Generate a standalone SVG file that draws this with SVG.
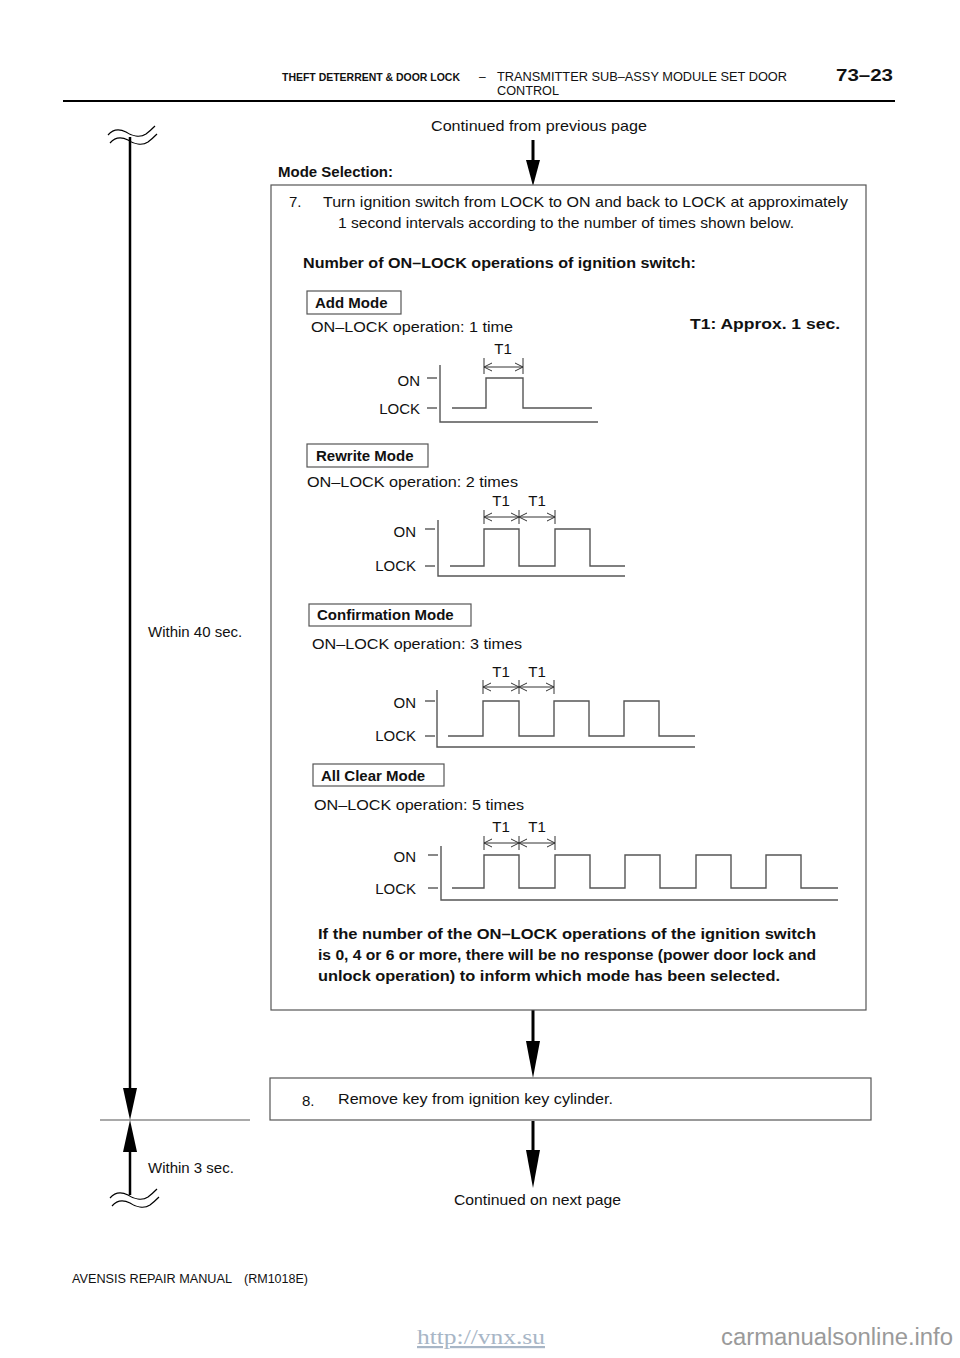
<svg xmlns="http://www.w3.org/2000/svg" width="960" height="1358" viewBox="0 0 960 1358">
<style>
text{font-family:"Liberation Sans",Arial,sans-serif;fill:#111}
.t{font-size:15px}
.b{font-size:15px;font-weight:bold}
.hd{font-size:12px}
.box{fill:#fff;stroke:#555;stroke-width:1.2}
.wave{fill:none;stroke:#555;stroke-width:1.4}
.dim{fill:none;stroke:#333;stroke-width:1}
.shaft{stroke:#000;stroke-width:3}
.vline{stroke:#000;stroke-width:2.5}
.sq{fill:none;stroke:#000;stroke-width:1.2}
</style>
<defs>
<marker id="open" markerWidth="10" markerHeight="10" refX="8" refY="5" orient="auto-start-reverse" markerUnits="userSpaceOnUse">
<path d="M0,1 L8,5 L0,9" fill="none" stroke="#333" stroke-width="1"/>
</marker>
</defs>

<g id="header">
<text x="282" y="81" font-size="11" font-weight="bold" textLength="178" lengthAdjust="spacingAndGlyphs">THEFT DETERRENT &amp; DOOR LOCK</text>
<text x="479" y="81" class="hd">–</text>
<text x="497" y="81" class="hd" textLength="290" lengthAdjust="spacingAndGlyphs">TRANSMITTER SUB–ASSY MODULE SET DOOR</text>
<text x="497" y="95" class="hd" textLength="62" lengthAdjust="spacingAndGlyphs">CONTROL</text>
<text x="836" y="81" font-size="16" font-weight="bold" textLength="57" lengthAdjust="spacingAndGlyphs">73–23</text>
<line x1="63" y1="101" x2="895" y2="101" stroke="#000" stroke-width="2"/>
</g>

<g id="connectors">
<line class="shaft" x1="533" y1="140" x2="533" y2="165"/>
<polygon points="526,160 540,160 533,186" fill="#000"/>
<line class="shaft" x1="533" y1="1010" x2="533" y2="1045"/>
<polygon points="526,1041 540,1041 533,1078" fill="#000"/>
<line class="shaft" x1="533" y1="1121" x2="533" y2="1155"/>
<polygon points="526,1150 540,1150 533,1188" fill="#000"/>
<line class="vline" x1="130" y1="137" x2="130" y2="1092"/>
<polygon points="123,1088 137,1088 130,1120" fill="#000"/>
<polygon points="123,1152 137,1152 130,1120" fill="#000"/>
<line class="vline" x1="130" y1="1148" x2="130" y2="1195"/>
<line x1="100" y1="1120" x2="250" y2="1120" stroke="#555" stroke-width="1.2"/>
<path class="sq" d="M108,135 C114,128 120,129 126,132 C132,136 140,138 146,134 C150,131 152,129 155,126"/>
<path class="sq" d="M110,143 C116,136 122,137 128,140 C134,144 142,146 148,142 C152,139 154,137 157,134"/>
<path class="sq" d="M110,1198 C116,1191 122,1192 128,1195 C134,1199 142,1201 148,1197 C152,1194 154,1192 157,1189"/>
<path class="sq" d="M112,1206 C118,1199 124,1200 130,1203 C136,1207 144,1209 150,1205 C154,1202 156,1200 159,1197"/>
</g>

<g id="labels">
<text x="431" y="131" class="t" textLength="216" lengthAdjust="spacingAndGlyphs">Continued from previous page</text>
<text x="278" y="177" class="b">Mode Selection:</text>
<text x="148" y="637" class="t">Within 40 sec.</text>
<text x="148" y="1173" class="t">Within 3 sec.</text>
<text x="454" y="1205" class="t" textLength="167" lengthAdjust="spacingAndGlyphs">Continued on next page</text>
</g>

<g id="step7">
<rect class="box" x="271" y="185" width="595" height="825"/>
<text x="289" y="207" class="t">7.</text>
<text x="323" y="207" class="t" textLength="525" lengthAdjust="spacingAndGlyphs">Turn ignition switch from LOCK to ON and back to LOCK at approximately</text>
<text x="338" y="228" class="t" textLength="456" lengthAdjust="spacingAndGlyphs">1 second intervals according to the number of times shown below.</text>
<text x="303" y="268" class="b" textLength="393" lengthAdjust="spacingAndGlyphs">Number of ON–LOCK operations of ignition switch:</text>
<text x="690" y="329" class="b" textLength="150" lengthAdjust="spacingAndGlyphs">T1: Approx. 1 sec.</text>
<text x="318" y="939" class="b" textLength="498" lengthAdjust="spacingAndGlyphs">If the number of the ON–LOCK operations of the ignition switch</text>
<text x="318" y="960" class="b" textLength="498" lengthAdjust="spacingAndGlyphs">is 0, 4 or 6 or more, there will be no response (power door lock and</text>
<text x="318" y="981" class="b" textLength="462" lengthAdjust="spacingAndGlyphs">unlock operation) to inform which mode has been selected.</text>
</g>

<g id="add-mode">
<rect class="box" x="307" y="291" width="94" height="23"/>
<text x="315" y="308" class="b">Add Mode</text>
<text x="311" y="332" class="t" textLength="202" lengthAdjust="spacingAndGlyphs">ON–LOCK operation: 1 time</text>
<text x="503" y="354" class="t" text-anchor="middle">T1</text>
<line class="dim" x1="484" y1="358" x2="484" y2="374"/>
<line class="dim" x1="523" y1="358" x2="523" y2="374"/>
<line class="dim" x1="484" y1="367" x2="523" y2="367" marker-start="url(#open)" marker-end="url(#open)"/>
<text x="420" y="386" class="t" text-anchor="end">ON</text>
<text x="420" y="414" class="t" text-anchor="end">LOCK</text>
<line class="wave" x1="427" y1="378" x2="437" y2="378"/>
<line class="wave" x1="427" y1="408" x2="437" y2="408"/>
<polyline class="wave" points="440,365 440,422 598,422"/>
<path class="wave" d="M452,408 H486 V378 H523 V408 H592"/>
</g>

<g id="rewrite-mode">
<rect class="box" x="307" y="444" width="121" height="23"/>
<text x="316" y="461" class="b">Rewrite Mode</text>
<text x="307" y="487" class="t" textLength="211" lengthAdjust="spacingAndGlyphs">ON–LOCK operation: 2 times</text>
<text x="501" y="506" class="t" text-anchor="middle">T1</text>
<text x="537" y="506" class="t" text-anchor="middle">T1</text>
<line class="dim" x1="484" y1="510" x2="484" y2="524"/>
<line class="dim" x1="519" y1="510" x2="519" y2="524"/>
<line class="dim" x1="555" y1="510" x2="555" y2="524"/>
<line class="dim" x1="484" y1="517" x2="519" y2="517" marker-start="url(#open)" marker-end="url(#open)"/>
<line class="dim" x1="519" y1="517" x2="555" y2="517" marker-start="url(#open)" marker-end="url(#open)"/>
<text x="416" y="537" class="t" text-anchor="end">ON</text>
<text x="416" y="571" class="t" text-anchor="end">LOCK</text>
<line class="wave" x1="425" y1="529" x2="435" y2="529"/>
<line class="wave" x1="425" y1="566" x2="435" y2="566"/>
<polyline class="wave" points="438,520 438,576 625,576"/>
<path class="wave" d="M450,566 H484 V529 H519 V566 H555 V529 H590 V566 H625"/>
</g>

<g id="confirmation-mode">
<rect class="box" x="309" y="604" width="162" height="22"/>
<text x="317" y="620" class="b">Confirmation Mode</text>
<text x="312" y="649" class="t" textLength="210" lengthAdjust="spacingAndGlyphs">ON–LOCK operation: 3 times</text>
<text x="501" y="677" class="t" text-anchor="middle">T1</text>
<text x="537" y="677" class="t" text-anchor="middle">T1</text>
<line class="dim" x1="483" y1="680" x2="483" y2="694"/>
<line class="dim" x1="519" y1="680" x2="519" y2="694"/>
<line class="dim" x1="554" y1="680" x2="554" y2="694"/>
<line class="dim" x1="483" y1="687" x2="519" y2="687" marker-start="url(#open)" marker-end="url(#open)"/>
<line class="dim" x1="519" y1="687" x2="554" y2="687" marker-start="url(#open)" marker-end="url(#open)"/>
<text x="416" y="708" class="t" text-anchor="end">ON</text>
<text x="416" y="741" class="t" text-anchor="end">LOCK</text>
<line class="wave" x1="425" y1="701" x2="435" y2="701"/>
<line class="wave" x1="425" y1="736" x2="435" y2="736"/>
<polyline class="wave" points="437,690 437,747 695,747"/>
<path class="wave" d="M448,736 H483 V701 H519 V736 H554 V701 H589 V736 H624 V701 H659 V736 H695"/>
</g>

<g id="all-clear-mode">
<rect class="box" x="313" y="764" width="131" height="22"/>
<text x="321" y="781" class="b">All Clear Mode</text>
<text x="314" y="810" class="t" textLength="210" lengthAdjust="spacingAndGlyphs">ON–LOCK operation: 5 times</text>
<text x="501" y="832" class="t" text-anchor="middle">T1</text>
<text x="537" y="832" class="t" text-anchor="middle">T1</text>
<line class="dim" x1="484" y1="836" x2="484" y2="850"/>
<line class="dim" x1="519" y1="836" x2="519" y2="850"/>
<line class="dim" x1="555" y1="836" x2="555" y2="850"/>
<line class="dim" x1="484" y1="843" x2="519" y2="843" marker-start="url(#open)" marker-end="url(#open)"/>
<line class="dim" x1="519" y1="843" x2="555" y2="843" marker-start="url(#open)" marker-end="url(#open)"/>
<text x="416" y="862" class="t" text-anchor="end">ON</text>
<text x="416" y="894" class="t" text-anchor="end">LOCK</text>
<line class="wave" x1="428" y1="855" x2="438" y2="855"/>
<line class="wave" x1="428" y1="888" x2="438" y2="888"/>
<polyline class="wave" points="441,846 441,900 838,900"/>
<path class="wave" d="M452,888 H484 V855 H519 V888 H555 V855 H590 V888 H625 V855 H660 V888 H696 V855 H731 V888 H766 V855 H801 V888 H838"/>
</g>

<g id="step8">
<rect class="box" x="270" y="1078" width="601" height="42"/>
<text x="302" y="1106" class="t">8.</text>
<text x="338" y="1104" class="t" textLength="275" lengthAdjust="spacingAndGlyphs">Remove key from ignition key cylinder.</text>
</g>

<g id="footer">
<text x="72" y="1283" class="hd" textLength="160" lengthAdjust="spacingAndGlyphs">AVENSIS REPAIR MANUAL</text>
<text x="244" y="1283" class="hd" textLength="64" lengthAdjust="spacingAndGlyphs">(RM1018E)</text>
<text x="417" y="1344" font-size="22" style="fill:#a8b6c6;font-family:'Liberation Serif',serif" text-decoration="underline" textLength="128" lengthAdjust="spacingAndGlyphs">http://vnx.su</text>
<text x="721" y="1345" font-size="23" style="fill:#9a9a9a" textLength="232" lengthAdjust="spacingAndGlyphs">carmanualsonline.info</text>
</g>
</svg>
